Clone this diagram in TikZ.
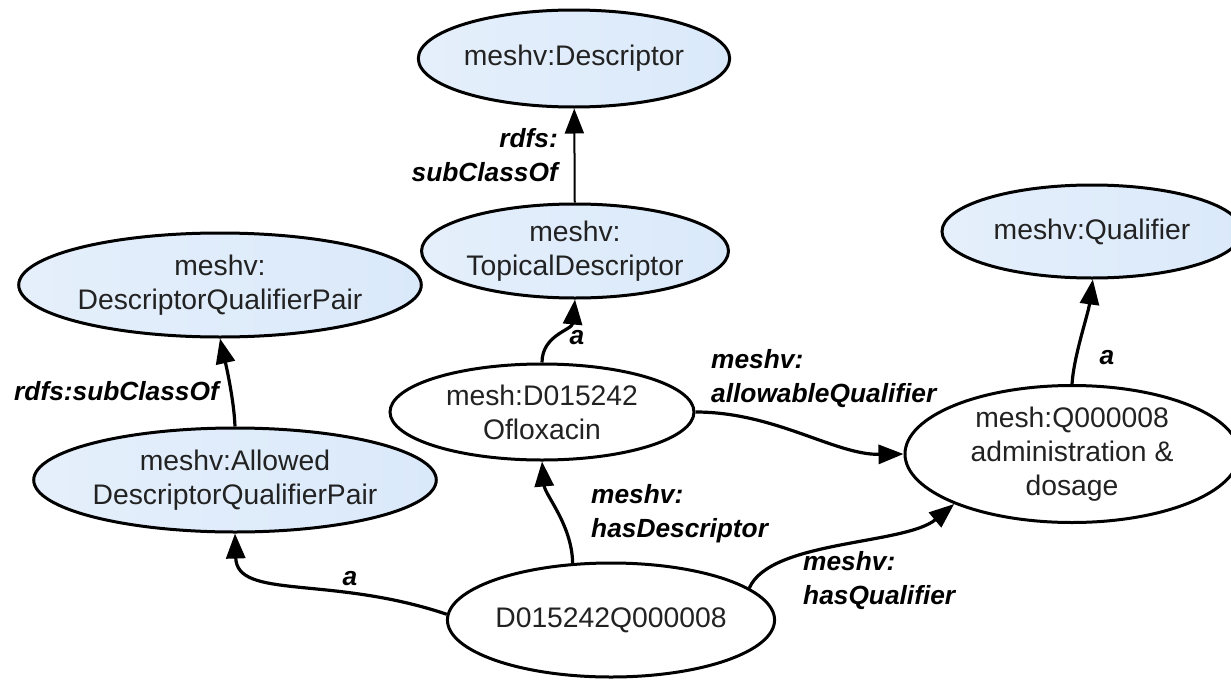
\documentclass[tikz,border=0pt]{standalone}
\usepackage{fontspec}
\setmainfont{Liberation Sans}
\usetikzlibrary{arrows.meta,shapes.geometric}
\definecolor{clsL}{HTML}{E5EFFB}
\definecolor{clsR}{HTML}{DAE9FA}
\definecolor{nodetext}{HTML}{222222}
\newcommand\dgnodefont{\fontsize{28.3}{34}\selectfont}
\newcommand\dglblfont{\fontsize{26.3}{34}\selectfont\bfseries\itshape}
\begin{document}
\begin{tikzpicture}[x=1pt,y=-1pt,
  cls/.style={ellipse, draw=black, line width=3pt, left color=clsL, right color=clsR, inner sep=0pt, align=center, text=nodetext, font=\dgnodefont},
  inst/.style={ellipse, draw=black, line width=3pt, fill=white, inner sep=0pt, align=center, text=nodetext, font=\dgnodefont},
  conn/.style={line width=3.2pt, -{Triangle[length=25pt,width=19pt]}},
  lbl/.style={inner sep=0pt, font=\dglblfont, text=black}]
\useasboundingbox (0,0) rectangle (1231,680);
\clip (0,0) rectangle (1231,680);
\fill[white] (0,0) rectangle (1231,680);
% nodes
\node[cls, minimum width=304pt, minimum height=97pt] (desc) at (574,58.5) {meshv:Descriptor};
\node[cls, minimum width=306pt, minimum height=94pt] (topic) at (575,251) {meshv:\\TopicalDescriptor};
\node[cls, minimum width=300pt, minimum height=93pt] (qual) at (1092,231.5) {meshv:Qualifier};
\node[cls, minimum width=346pt, minimum height=104pt] (dqp) at (220,285) {meshv:\\DescriptorQualifierPair};
\node[cls, minimum width=344pt, minimum height=104pt] (adqp) at (235,480) {meshv:Allowed\\DescriptorQualifierPair};
\node[inst, minimum width=304pt, minimum height=96pt] (oflox) at (542,412) {mesh:D015242\\Ofloxacin};
\node[inst, minimum width=334pt, minimum height=137pt] (q8) at (1072,454) {mesh:Q000008\\administration \&\\dosage};
\node[inst, minimum width=326pt, minimum height=114pt] (pair) at (611,620) {D015242Q000008};
% connectors
\draw[conn, line width=2pt] (topic) -- (desc);
\draw[conn] (adqp.north) .. controls (234,400) and (226,365) .. (dqp.south);
\draw[conn] (oflox.north) .. controls (542,335) and (572,330) .. (topic.south);
\draw[conn] (pair.124) .. controls (572,525) and (545,495) .. (oflox.south);
\draw[conn] (oflox.east) .. controls (775,412) and (835,455) .. (q8.west);
\draw[conn] (pair.13.5) .. controls (770,540) and (905,545) .. (q8.203);
\draw[conn] (q8.north) .. controls (1074,355) and (1088,315) .. (qual.-89);
\draw[conn] (pair.178) .. controls (330,575) and (237,600) .. (adqp.south);
% labels
\node[lbl, align=right, anchor=north east] (l1) at (558,128) {rdfs:\\subClassOf};
\node[lbl, anchor=base east] (l2) at (219,400) {rdfs:subClassOf};
\node[lbl, anchor=base] (l3) at (350,585) {a};
\node[lbl, anchor=base] (l4) at (577,344) {a};
\node[lbl, anchor=base] (l5) at (1107,364) {a};
\node[lbl, align=left, anchor=north west] (l6) at (591,484) {meshv:\\hasDescriptor};
\node[lbl, align=left, anchor=north west] (l7) at (711,349) {meshv:\\allowableQualifier};
\node[lbl, align=left, anchor=north west] (l8) at (803,551) {meshv:\\hasQualifier};
\end{tikzpicture}
\end{document}
